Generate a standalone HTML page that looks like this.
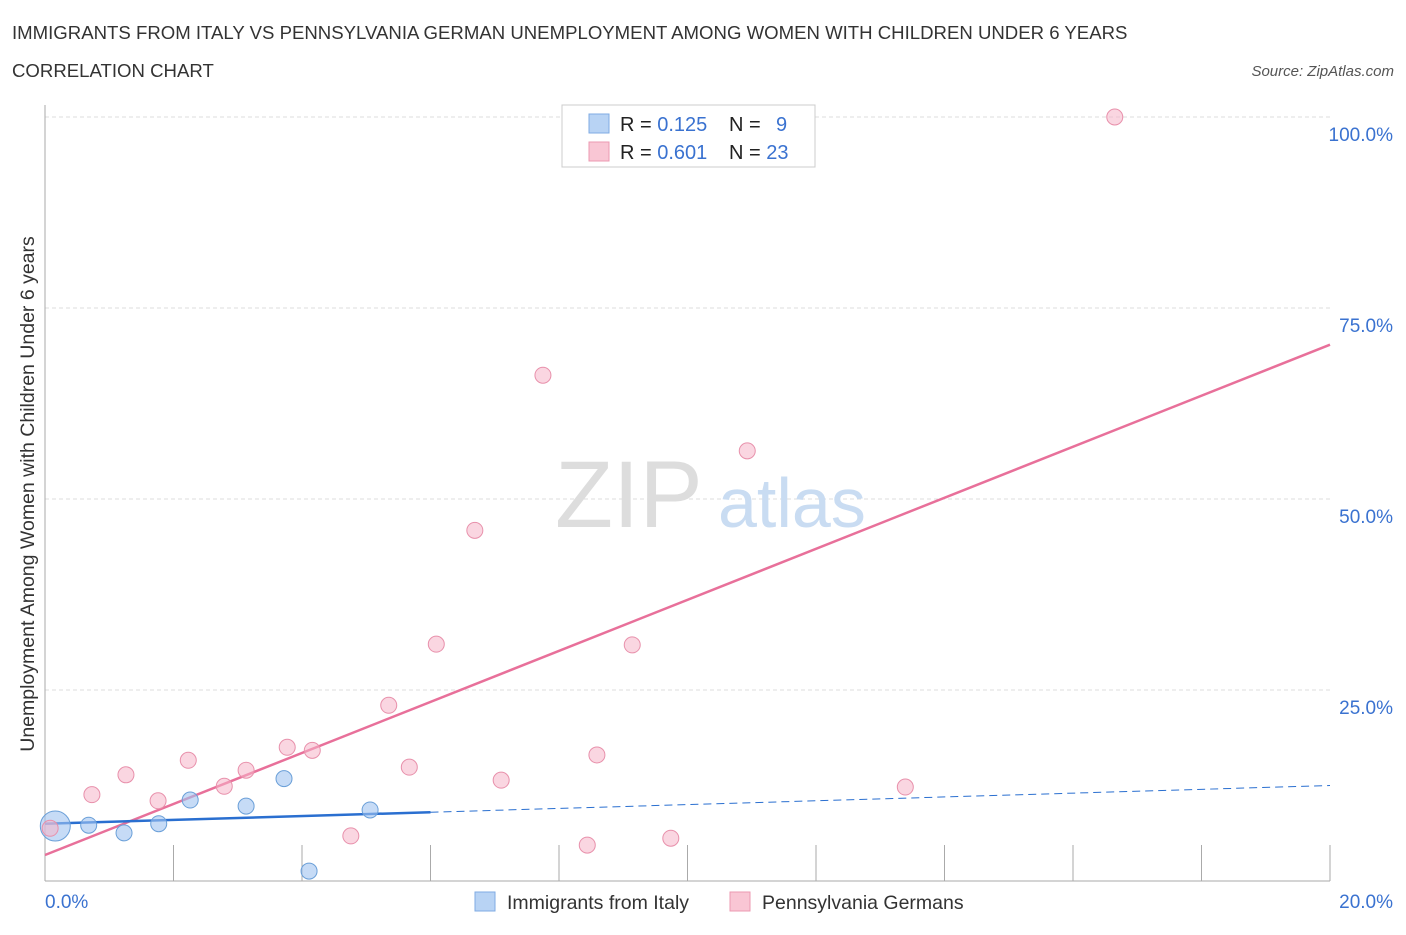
<!DOCTYPE html>
<html><head><meta charset="utf-8"><style>
body{margin:0;background:#fff;font-family:"Liberation Sans",sans-serif;}
svg text{font-family:"Liberation Sans",sans-serif;}
</style></head><body>
<svg id="chart" width="1406" height="930">
<text x="12" y="39" font-size="18.6" fill="#333">IMMIGRANTS FROM ITALY VS PENNSYLVANIA GERMAN UNEMPLOYMENT AMONG WOMEN WITH CHILDREN UNDER 6 YEARS</text>
<text x="12" y="77" font-size="18.6" fill="#333">CORRELATION CHART</text>
<text x="1394" y="76" font-size="15" fill="#555" font-style="italic" text-anchor="end">Source: ZipAtlas.com</text>
<g id="grid"></g>
<g id="axes"></g>
<text x="555" y="527" font-size="95" fill="#ddd" font-family="Liberation Serif">ZIP</text>
<text x="718" y="527" font-size="70" fill="#c9dcf2">atlas</text>
<g id="lines"></g>
<g id="points"></g>
<text transform="translate(34,494) rotate(-90)" font-size="19.5" fill="#333" text-anchor="middle">Unemployment Among Women with Children Under 6 years</text>
<g>
<rect x="562" y="105" width="253" height="62" fill="#fff" stroke="#ccc"/>
<rect x="589" y="114" width="20" height="19" fill="#b8d3f4" stroke="#7fabe3"/>
<rect x="589" y="142" width="20" height="19" fill="#f9c6d4" stroke="#ec99b2"/>
<text x="620" y="131" font-size="20" fill="#222">R = <tspan fill="#3a72d0">0.125</tspan></text>
<text x="729" y="131" font-size="20" fill="#222">N = <tspan x="776" fill="#3a72d0">9</tspan></text>
<text x="620" y="159" font-size="20" fill="#222">R = <tspan fill="#3a72d0">0.601</tspan></text>
<text x="729" y="159" font-size="20" fill="#222">N = <tspan fill="#3a72d0">23</tspan></text>
</g>
<g>
<rect x="475" y="892" width="20" height="19" fill="#b8d3f4" stroke="#7fabe3"/>
<text x="507" y="909" font-size="19.5" fill="#333">Immigrants from Italy</text>
<rect x="730" y="892" width="20" height="19" fill="#f9c6d4" stroke="#ec99b2"/>
<text x="762" y="909" font-size="19.5" fill="#333">Pennsylvania Germans</text>
</g>
</svg>
<script>
const yTicks=[25,50,75,100];
const yTickLabels=["25.0%","50.0%","75.0%","100.0%"];
const pinkX=[0.08,0.73,1.26,1.76,2.23,2.79,3.13,3.77,4.16,4.76,5.35,5.67,6.09,6.69,7.10,7.75,8.44,8.59,9.14,9.74,10.93,13.39,16.65];
const pinkY=[6.9,11.3,13.9,10.5,15.8,12.4,14.5,17.5,17.1,5.9,23.0,14.9,31.0,45.9,13.2,66.2,4.7,16.5,30.9,5.6,56.3,12.3,100];
const blueX=[0.16,0.68,1.23,1.77,2.26,3.13,3.72,4.11,5.06];
const blueY=[7.2,7.3,6.3,7.5,10.6,9.8,13.4,1.3,9.3];
const blueSize=[15,8,8,8,8,8,8,8,8];
const pinkTrend=[3.4,70.2];
const blueTrend=[7.5,12.5];
const blueSolidEnd=6.0;
const NS="http://www.w3.org/2000/svg";
const X=v=>45+v/20*1285, Y=v=>881-v/100*764;
function mk(tag,attrs,parent){const e=document.createElementNS(NS,tag);for(const k in attrs)e.setAttribute(k,attrs[k]);document.getElementById(parent).appendChild(e);return e;}
yTicks.forEach((t,i)=>{
 const l=mk('line',{x1:45,x2:1330,y1:Y(t),y2:Y(t),stroke:'#ddd','stroke-dasharray':'4,3'},'grid');
 
 
 const tx=mk('text',{x:1393,y:Y(t)+24,'font-size':19,fill:'#3a72d0','text-anchor':'end'},'axes');
 tx.textContent=yTickLabels[i];
 
 
});
const ax=mk('line',{x1:45,x2:1330,y1:881,y2:881,stroke:'#aaa'},'axes');


const ay=mk('line',{x1:45,x2:45,y1:105,y2:881,stroke:'#aaa'},'axes');


for(let i=0;i<=10;i++){const t=mk('line',{x1:X(i*2),x2:X(i*2),y1:881,y2:i==0?881:845,stroke:'#aaa'},'axes');
 
 }
[["0.0%",45,'start'],["20.0%",1393,'end']].forEach(a=>{const t=mk('text',{x:a[1],y:908,'font-size':19,fill:'#3a72d0','text-anchor':a[2]},'axes');t.textContent=a[0];
 
 });
const pl=mk('line',{x1:X(0),y1:Y(pinkTrend[0]),x2:X(20),y2:Y(pinkTrend[1]),stroke:'#e8709a','stroke-width':2.5},'lines');


const bAt=x=>blueTrend[0]+(blueTrend[1]-blueTrend[0])*x/20;
const bl=mk('line',{x1:X(0),y1:Y(blueTrend[0]),x2:X(blueSolidEnd),y2:Y(bAt(blueSolidEnd)),stroke:'#2a6fd0','stroke-width':2.5},'lines');


const bd=mk('line',{x1:X(blueSolidEnd),y1:Y(bAt(blueSolidEnd)),x2:X(20),y2:Y(blueTrend[1]),stroke:'#2a6fd0','stroke-width':1,'stroke-dasharray':'8,5'},'lines');


blueX.forEach((x,i)=>{const c=mk('circle',{cx:X(x),cy:Y(blueY[i]),r:blueSize[i],fill:'rgba(160,195,240,0.6)',stroke:'#6a9fd8','stroke-width':1},'points');
 
 });
pinkX.forEach((x,i)=>{const c=mk('circle',{cx:X(x),cy:Y(pinkY[i]),r:8,fill:'rgba(246,180,200,0.55)',stroke:'#e890ab','stroke-width':1},'points');
 
 });
</script>
</body></html>
